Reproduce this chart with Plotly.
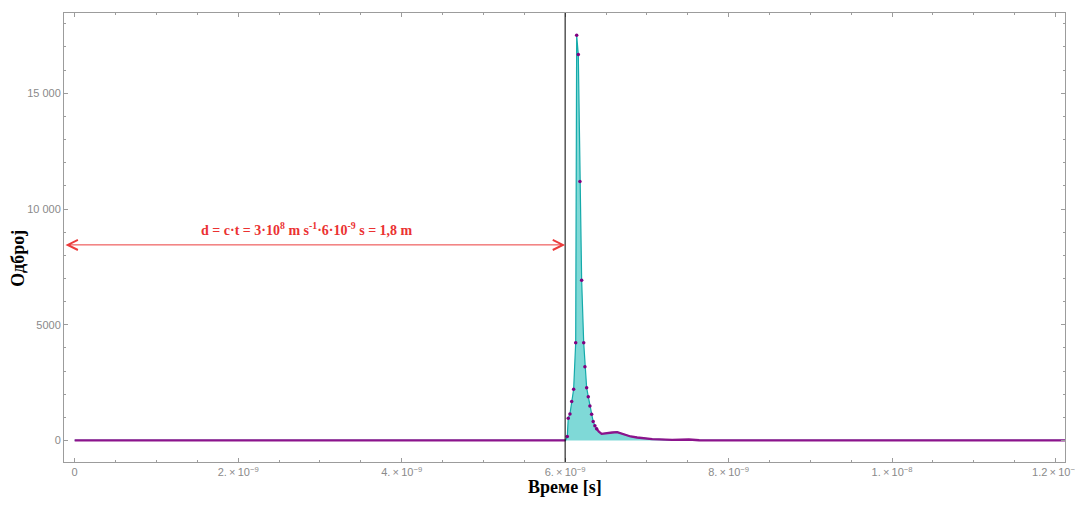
import plotly.graph_objects as go

# ---------------- data ----------------
time_ns = [0.0, 6.005, 6.026, 6.038, 6.059, 6.080, 6.104, 6.129, 6.141, 6.161,
           6.181, 6.202, 6.227, 6.242, 6.263, 6.283, 6.303, 6.324, 6.343, 6.364,
           6.385, 6.413, 6.446, 6.495, 6.576, 6.637, 6.698, 6.739, 6.801, 6.881,
           6.984, 7.065, 7.309, 7.473, 7.513, 7.640, 7.880, 12.2]
counts = [0, 0, 172, 964, 1149, 1687, 2213, 4219, 17507, 16677,
          11192, 6918, 4219, 3186, 2282, 1894, 1494, 1136, 818, 633,
          504, 375, 288, 318, 344, 362, 288, 245, 172, 129,
          86, 60, 30, 43, 43, 10, 0, 0]

emission_time = 6e-9       # vertical marker
distance_level = 8450      # height of the distance arrow

x_tickvals = [0, 2e-9, 4e-9, 6e-9, 8e-9, 1e-8, 1.2e-8]
x_ticktext = ["0", "2.\u2009×\u200910<sup>−9</sup>", "4.\u2009×\u200910<sup>−9</sup>",
              "6.\u2009×\u200910<sup>−9</sup>", "8.\u2009×\u200910<sup>−9</sup>",
              "1.\u2009×\u200910<sup>−8</sup>", "1.2\u2009×\u200910<sup>−8</sup>"]
y_tickvals = [0, 5000, 10000, 15000]
y_ticktext = ["0", "5000", "10 000", "15 000"]

x_title = "<b>Време [s]</b>"
y_title = "<b>Одброј</b>"
formula = "<b>d = c·t = 3·10<sup>8</sup> m s<sup>-1</sup>·6·10<sup>-9</sup> s = 1,8 m</b>"

# ---------------- derived ----------------
t_s = [t * 1e-9 for t in time_ns]
x_min, x_max = -0.1307e-9, 12.115e-9
y_min, y_max = -930, 18468

# purple thick line where samples are dense (baseline & tail)
tail_x, tail_y = [], []
prev_in = None
for t, c in zip(t_s, counts):
    inside = (t <= 6.01e-9) or (t >= 6.38e-9)
    if inside:
        if prev_in is False:
            tail_x.append(None); tail_y.append(None)
        tail_x.append(t); tail_y.append(c)
    prev_in = inside
peak_x = [t for t in t_s if 6.02e-9 <= t <= 6.39e-9]
peak_y = [c for t, c in zip(t_s, counts) if 6.02e-9 <= t <= 6.39e-9]

fig = go.Figure()
fig.add_trace(go.Scatter(
    x=t_s, y=counts, mode="lines", fill="tozeroy",
    fillcolor="rgba(0,180,175,0.5)",
    line=dict(color="rgb(20,170,170)", width=1.2),
    hoverinfo="skip", showlegend=False))
fig.add_trace(go.Scatter(
    x=tail_x, y=tail_y, mode="lines",
    line=dict(color="rgb(140,20,140)", width=2.3),
    connectgaps=False, showlegend=False))
fig.add_trace(go.Scatter(
    x=peak_x, y=peak_y, mode="markers",
    marker=dict(color="rgb(128,0,128)", size=3.5),
    showlegend=False))

# vertical line at emission time
fig.add_shape(type="line", xref="x", yref="paper",
              x0=emission_time, x1=emission_time, y0=0, y1=1,
              line=dict(color="black", width=1))

# double-headed distance arrow
fig.add_annotation(x=emission_time, y=distance_level, ax=x_min, ay=distance_level,
                   xref="x", yref="y", axref="x", ayref="y", text="",
                   showarrow=True, arrowside="end+start", arrowhead=5, startarrowhead=5,
                   arrowsize=2, startarrowsize=2, arrowwidth=1,
                   arrowcolor="rgb(235,60,60)", standoff=0, startstandoff=0)
fig.add_annotation(x=2.846e-9, y=distance_level, xref="x", yref="y",
                   text=formula, showarrow=False, yshift=16,
                   font=dict(family="Liberation Serif", size=14, color="rgb(235,50,50)"))

# axis titles
fig.add_annotation(x=0.5, y=-0.08, xref="paper", yref="paper", text=x_title,
                   showarrow=False, yanchor="bottom", borderpad=0,
                   font=dict(family="Liberation Serif", size=18, color="black"))
fig.add_annotation(x=-0.046, y=0.455, xref="paper", yref="paper", text=y_title,
                   showarrow=False, textangle=-90, xanchor="center",
                   font=dict(family="Liberation Serif", size=18, color="black"))

axis_common = dict(showgrid=False, zeroline=False, showline=True, mirror="ticks",
                   linecolor="#9c9c9c", linewidth=1, ticks="inside", ticklen=4,
                   tickcolor="#9c9c9c", tickwidth=1,
                   tickfont=dict(family="Liberation Sans", size=11, color="#8a8a8a"))
fig.update_xaxes(range=[x_min, x_max], tickvals=x_tickvals, ticktext=x_ticktext,
                 ticklabeloverflow="allow",
                 minor=dict(dtick=0.5e-9, tick0=0, ticks="inside", ticklen=2,
                            tickcolor="#9c9c9c"),
                 **axis_common)
fig.update_yaxes(range=[y_min, y_max], tickvals=y_tickvals, ticktext=y_ticktext,
                 minor=dict(dtick=1000, tick0=0, ticks="inside", ticklen=2,
                            tickcolor="#9c9c9c"),
                 **axis_common)

# page body has an 8px margin: size the figure so it fits the 1083x506 window
fig.update_layout(width=1075, height=490, plot_bgcolor="white", paper_bgcolor="white",
                  margin=dict(l=56, r=16, t=4, b=36), showlegend=False)

fig.write_html("out.html")
